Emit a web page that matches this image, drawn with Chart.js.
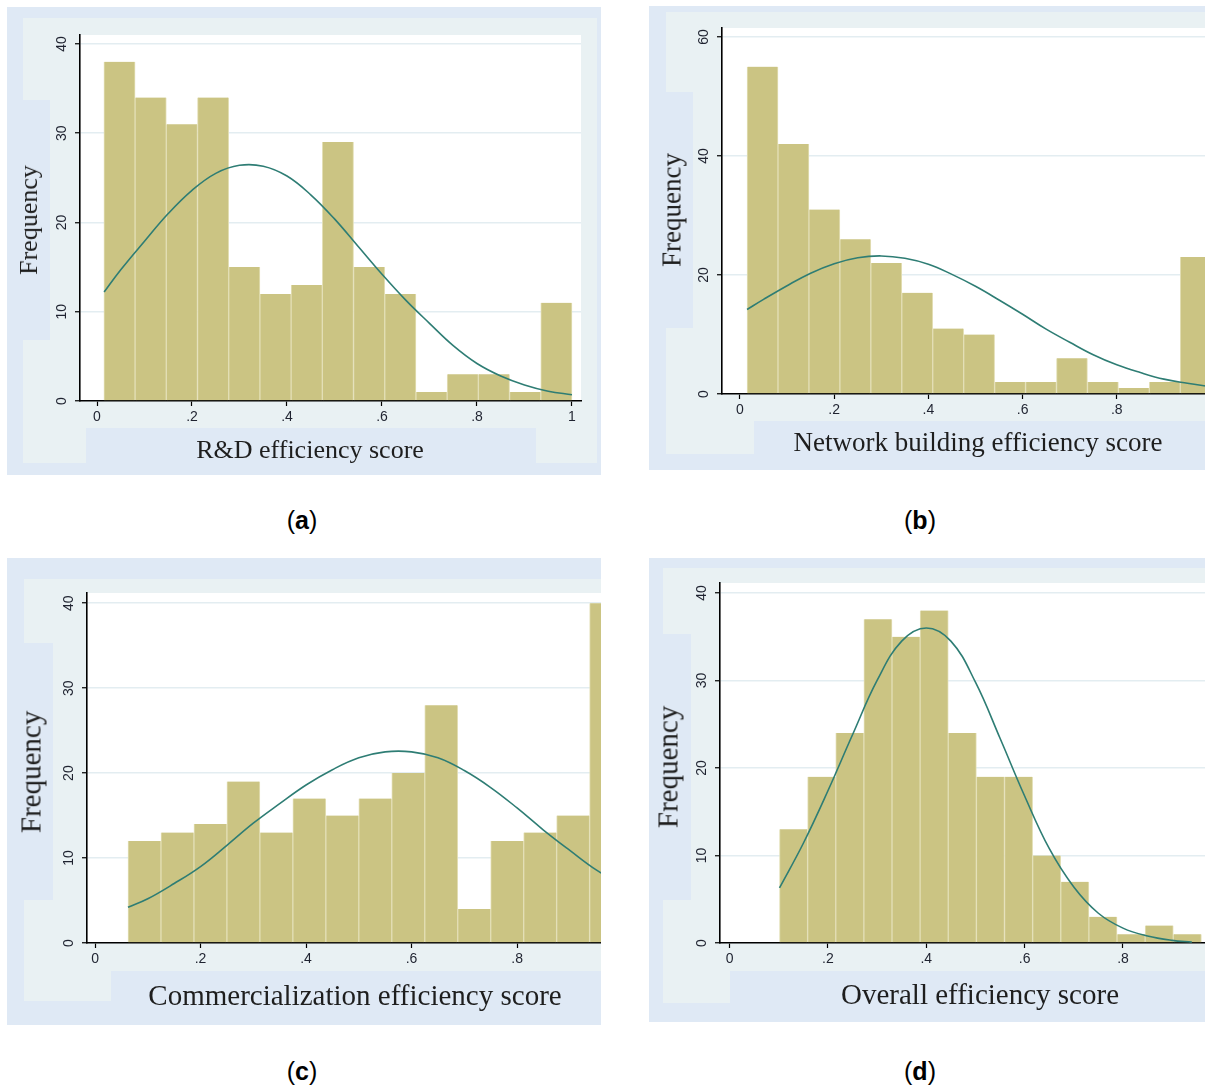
<!DOCTYPE html>
<html>
<head>
<meta charset="utf-8">
<script src="https://cdn.jsdelivr.net/npm/chart.js@4.4.1/dist/chart.umd.min.js"></script>
<style>
  html, body { margin: 0; padding: 0; width: 1205px; height: 1088px; overflow: hidden; background: #fff; }
  .panel { position: absolute; overflow: hidden; background: #dfe9f5; }
  .panel .bg { position: absolute; }
  .panel canvas { position: absolute; left: 0; top: 0; }
  .axtitle { position: absolute; font-family: "Liberation Serif", "Times New Roman", serif; color: #1e1e1e;
             white-space: nowrap; transform: translate(-50%, -50%); line-height: 1; }
  .ytitle { transform: translate(-50%, -50%) rotate(-90deg); }
  .caption { position: absolute; font-family: "Liberation Sans", Arial, sans-serif; font-size: 25px; color: #000;
             transform: translate(-50%, -50%); line-height: 1; }
</style>
</head>
<body>
<div class="panel" id="pa"><canvas id="ca"></canvas></div>
<div class="panel" id="pb"><canvas id="cb"></canvas></div>
<div class="panel" id="pc"><canvas id="cc"></canvas></div>
<div class="panel" id="pd"><canvas id="cd"></canvas></div>

<div class="axtitle" style="left:310px;top:450px;font-size:26px">R&amp;D efficiency score</div>
<div class="axtitle" style="left:978px;top:442px;font-size:27px">Network building efficiency score</div>
<div class="axtitle" style="left:355px;top:995px;font-size:29px">Commercialization efficiency score</div>
<div class="axtitle" style="left:980px;top:994px;font-size:29px">Overall efficiency score</div>
<div class="axtitle ytitle" style="left:29px;top:220px;font-size:26px">Frequency</div>
<div class="axtitle ytitle" style="left:672px;top:210px;font-size:27px">Frequency</div>
<div class="axtitle ytitle" style="left:31px;top:772px;font-size:29px">Frequency</div>
<div class="axtitle ytitle" style="left:668px;top:767px;font-size:29px">Frequency</div>

<div class="caption" style="left:302px;top:520px">(<b>a</b>)</div>
<div class="caption" style="left:920px;top:520px">(<b>b</b>)</div>
<div class="caption" style="left:302px;top:1071px">(<b>c</b>)</div>
<div class="caption" style="left:920px;top:1071px">(<b>d</b>)</div>

<script>
// tick values
const scoreTicks = [0, 0.2, 0.4, 0.6, 0.8, 1];
const freqTicks40 = [0, 10, 20, 30, 40];
const freqTicks60 = [0, 20, 40, 60];

// (a) R&D efficiency score
const rdCounts = [38, 34, 31, 34, 15, 12, 13, 29, 15, 12, 1, 3, 3, 1, 11];
const rdBinStart = 0.0145;
const rdBinWidth = 0.0657;
const rdCurveX = [0.015, 0.05, 0.1, 0.15, 0.2, 0.25, 0.3, 0.35, 0.4, 0.45, 0.5, 0.55, 0.6, 0.65, 0.7, 0.75, 0.8, 0.85, 0.9, 0.95, 1.0];
const rdCurveY = [12.2, 14.7, 17.9, 21.0, 23.6, 25.5, 26.4, 26.3, 25.2, 23.1, 20.4, 17.3, 14.2, 11.3, 8.7, 6.2, 4.2, 2.8, 1.8, 1.1, 0.7];

// (b) Network building efficiency score
const nbCounts = [55, 42, 31, 26, 22, 17, 11, 10, 2, 2, 6, 2, 1, 2, 23];
const nbBinStart = 0.015;
const nbBinWidth = 0.0657;
const nbCurveX = [0.015, 0.05, 0.1, 0.15, 0.2, 0.25, 0.3, 0.35, 0.4, 0.45, 0.5, 0.55, 0.6, 0.65, 0.7, 0.75, 0.8, 0.85, 0.9, 0.95, 1.0];
const nbCurveY = [14.2, 15.9, 18.2, 20.3, 21.9, 22.9, 23.2, 22.8, 21.8, 20.1, 18.1, 15.8, 13.4, 10.9, 8.7, 6.6, 4.9, 3.6, 2.5, 1.8, 1.2];

// (c) Commercialization efficiency score
const coCounts = [12, 13, 14, 19, 13, 17, 15, 17, 20, 28, 4, 12, 13, 15, 40];
const coBinStart = 0.0625;
const coBinWidth = 0.0625;
const coCurveX = [0.0625, 0.1, 0.15, 0.2, 0.25, 0.3, 0.35, 0.4, 0.45, 0.5, 0.55, 0.6, 0.65, 0.7, 0.75, 0.8, 0.85, 0.9, 0.95, 1.0];
const coCurveY = [4.2, 5.2, 7.0, 9.0, 11.5, 14.1, 16.4, 18.6, 20.4, 21.8, 22.5, 22.5, 21.8, 20.3, 18.3, 15.9, 13.3, 10.9, 8.6, 6.8];

// (d) Overall efficiency score
const ovCounts = [13, 19, 24, 37, 35, 38, 24, 19, 19, 10, 7, 3, 1, 2, 1];
const ovBinStart = 0.1015;
const ovBinWidth = 0.0572;
const ovCurveX = [0.1015, 0.15, 0.2, 0.25, 0.3, 0.35, 0.4, 0.45, 0.5, 0.55, 0.6, 0.65, 0.7, 0.75, 0.8, 0.85, 0.9, 0.94];
const ovCurveY = [6.3, 11.4, 17.4, 23.8, 30.0, 34.5, 36.0, 34.5, 29.8, 23.4, 16.8, 10.8, 6.4, 3.4, 1.7, 0.8, 0.3, 0.1];

const barColor = '#cbc483';
const barEdge = '#e3dfb6';
const curveColor = '#2e7d74';
const gridColor = '#e3edf1';
const tickColor = '#1f2330';
const lightBg = '#e9f1f3';

// page boxes of each panel; chart area given in canvas coordinates
const layouts = {
  a: { box: [7, 7, 594, 468], canvasW: 594, area: [73, 28, 574, 394], xMin: -0.0358, xMax: 1.019, yMax: 41.0,
       rects: [[23, 18, 597, 463, lightBg], [23, 100, 50, 340, '#dfe9f5'], [86, 428, 536, 463, '#dfe9f5']] },
  b: { box: [649, 6, 600, 464], canvasW: 600, area: [73, 22, 591, 388], xMin: -0.0382, xMax: 1.0616, yMax: 61.5,
       rects: [[666, 12, 1260, 454, lightBg], [666, 92, 693, 328, '#dfe9f5'], [754, 421, 1260, 454, '#dfe9f5']] },
  c: { box: [7, 558, 594, 467], canvasW: 640, area: [80, 35, 633, 385], xMin: -0.0152, xMax: 1.033, yMax: 41.2,
       rects: [[24, 579, 601, 1001, lightBg], [24, 643, 53, 900, '#dfe9f5'], [111, 971, 601, 1001, '#dfe9f5']] },
  d: { box: [649, 558, 600, 464], canvasW: 600, area: [71, 25, 591, 385], xMin: -0.0195, xMax: 1.038, yMax: 41.14,
       rects: [[663, 568, 1260, 1003, lightBg], [663, 634, 691, 900, '#dfe9f5'], [730, 971, 1260, 1003, '#dfe9f5']] }
};

const scoreLabel = v => v === 0 ? '0' : v === 1 ? '1' : '.' + Math.round(v * 10);

const stataPlugin = {
  id: 'stata',
  beforeDraw(chart) {
    const { ctx, chartArea: a } = chart;
    ctx.save();
    ctx.fillStyle = '#fff';
    ctx.fillRect(a.left, a.top, a.right - a.left, a.bottom - a.top);
    ctx.restore();
  },
  afterDraw(chart) {
    // stata draws the y labels turned on their side
    const ctx = chart.ctx, y = chart.scales.y;
    ctx.save();
    ctx.font = '14px "Liberation Sans", Arial, sans-serif';
    ctx.fillStyle = tickColor;
    ctx.textAlign = 'center';
    ctx.textBaseline = 'middle';
    y.ticks.forEach(t => {
      ctx.save();
      ctx.translate(y.right - 18, y.getPixelForValue(t.value));
      ctx.rotate(-Math.PI / 2);
      ctx.fillText(String(t.value), 0, 0);
      ctx.restore();
    });
    ctx.restore();
  }
};

function drawPanel(key, counts, binStart, binWidth, curveX, curveY, yTicks) {
  const p = layouts[key];
  const panel = document.getElementById('p' + key);
  const [bx, by, bw, bh] = p.box;
  panel.style.left = bx + 'px';
  panel.style.top = by + 'px';
  panel.style.width = bw + 'px';
  panel.style.height = bh + 'px';
  const canvas = document.getElementById('c' + key);
  p.rects.forEach(r => {
    const d = document.createElement('div');
    d.className = 'bg';
    d.style.left = (r[0] - bx) + 'px';
    d.style.top = (r[1] - by) + 'px';
    d.style.width = (r[2] - r[0]) + 'px';
    d.style.height = (r[3] - r[1]) + 'px';
    d.style.background = r[4];
    panel.insertBefore(d, canvas);
  });

  canvas.width = p.canvasW;
  canvas.height = bh;
  const [al, at, ar, ab] = p.area;

  return new Chart(canvas, {
    type: 'bar',
    data: {
      datasets: [
        {
          type: 'line',
          data: curveX.map((x, i) => ({ x: x, y: curveY[i] })),
          borderColor: curveColor,
          borderWidth: 1.6,
          pointRadius: 0,
          fill: false,
          tension: 0.4,
          order: 0
        },
        {
          type: 'bar',
          data: counts.map((c, i) => ({ x: binStart + binWidth * (i + 0.5), y: c })),
          backgroundColor: barColor,
          borderColor: barEdge,
          borderWidth: { left: 1, right: 1, top: 0, bottom: 0 },
          borderSkipped: 'bottom',
          barPercentage: 1,
          categoryPercentage: 1,
          order: 1
        }
      ]
    },
    options: {
      responsive: false,
      animation: false,
      devicePixelRatio: 1,
      layout: { padding: { left: 0, top: at, right: p.canvasW - ar, bottom: 0 } },
      plugins: { legend: { display: false }, tooltip: { enabled: false } },
      scales: {
        x: {
          type: 'linear',
          offset: false,
          min: p.xMin,
          max: p.xMax,
          afterBuildTicks: s => { s.ticks = scoreTicks.map(v => ({ value: v })); },
          afterFit: s => { s.height = bh - ab; },
          grid: { display: true, offset: false, drawOnChartArea: false, drawTicks: true, tickLength: 5, tickColor: '#000', tickWidth: 1.2 },
          border: { display: true, color: '#000', width: 1.6 },
          ticks: {
            autoSkip: false, maxRotation: 0, minRotation: 0, padding: 3, color: tickColor,
            font: { family: '"Liberation Sans", Arial, sans-serif', size: 14 },
            callback: v => scoreLabel(v)
          }
        },
        y: {
          type: 'linear',
          min: 0,
          max: p.yMax,
          afterBuildTicks: s => { s.ticks = yTicks.map(v => ({ value: v })); },
          afterFit: s => { s.width = al; },
          grid: {
            color: c => c.tick && c.tick.value === 0 ? 'rgba(0,0,0,0)' : gridColor,
            lineWidth: 1.5, drawTicks: true, tickLength: 5, tickColor: '#000', tickWidth: 1.2
          },
          border: { display: true, color: '#000', width: 1.6 },
          ticks: { display: false }
        }
      }
    },
    plugins: [stataPlugin]
  });
}

drawPanel('a', rdCounts, rdBinStart, rdBinWidth, rdCurveX, rdCurveY, freqTicks40);
drawPanel('b', nbCounts, nbBinStart, nbBinWidth, nbCurveX, nbCurveY, freqTicks60);
drawPanel('c', coCounts, coBinStart, coBinWidth, coCurveX, coCurveY, freqTicks40);
drawPanel('d', ovCounts, ovBinStart, ovBinWidth, ovCurveX, ovCurveY, freqTicks40);
</script>
</body>
</html>
